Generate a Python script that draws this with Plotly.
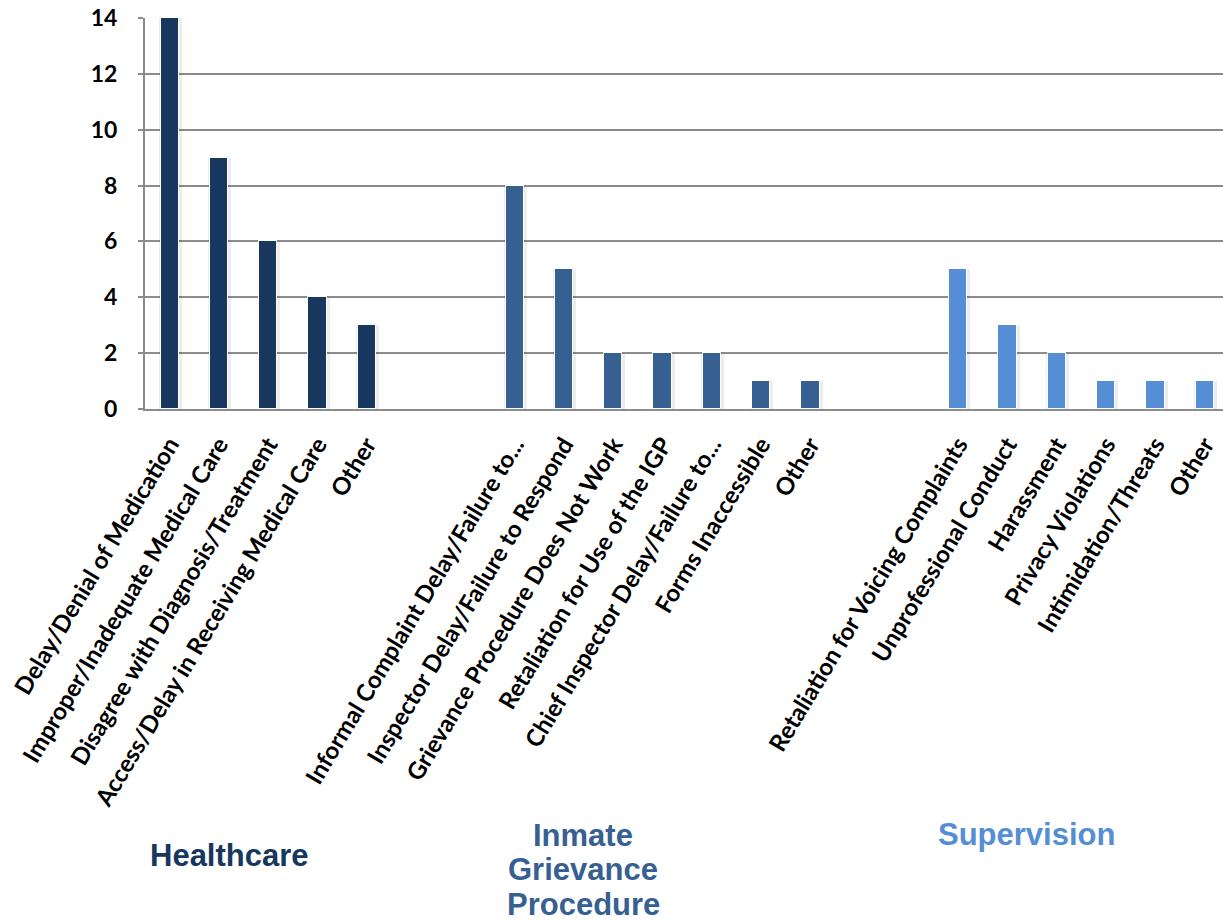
import plotly.graph_objects as go

# Complaint categories and counts, grouped by area
healthcare_labels = [
    "Delay/Denial of Medication",
    "Improper/Inadequate Medical Care",
    "Disagree with Diagnosis/Treatment",
    "Access/Delay in Receiving Medical Care",
    "Other",
]
healthcare_counts = [14, 9, 6, 4, 3]

igp_labels = [
    "Informal Complaint Delay/Failure to...",
    "Inspector Delay/Failure to Respond",
    "Grievance Procedure Does Not Work",
    "Retaliation for Use of the IGP",
    "Chief Inspector Delay/Failure to...",
    "Forms Inaccessible",
    "Other",
]
igp_counts = [8, 5, 2, 2, 2, 1, 1]

supervision_labels = [
    "Retaliation for Voicing Complaints",
    "Unprofessional Conduct",
    "Harassment",
    "Privacy Violations",
    "Intimidation/Threats",
    "Other",
]
supervision_counts = [5, 3, 2, 1, 1, 1]

group_colors = ["#17375E", "#366092", "#558ED5"]

groups = [
    (healthcare_labels, healthcare_counts),
    (igp_labels, igp_counts),
    (supervision_labels, supervision_counts),
]

GAP = 2  # empty slots between groups

fig = go.Figure()
tickvals, ticktext = [], []
pos = 0
for (labels, counts), color in zip(groups, group_colors):
    xs = list(range(pos, pos + len(labels)))
    # soft glow/shadow around each bar
    fig.add_trace(go.Bar(
        x=[x + 0.015 for x in xs], y=counts, width=0.46,
        marker=dict(color="rgba(0,0,0,0.07)", line=dict(width=0)),
        hoverinfo="skip", showlegend=False,
    ))
    fig.add_trace(go.Bar(
        x=xs, y=counts, width=0.37,
        marker=dict(color=color, line=dict(color="white", width=1)),
        showlegend=False,
    ))
    tickvals += xs
    ticktext += labels
    pos += len(labels) + GAP

L, T, B_PX, H, W = 145, 18, 409, 921, 1223
plot_h = B_PX - T


def py(y):
    return (B_PX - y) / plot_h


def px(x):
    return (x - L) / (W - L)


annotations = []
# group captions
title_font = "Liberation Sans, Arial, sans-serif"
annotations.append(dict(text="<b>Healthcare</b>", x=px(229), y=py(856), xref="paper", yref="paper",
                        showarrow=False, font=dict(family=title_font, size=31, color=group_colors[0]),
                        xanchor="center", yanchor="middle"))
for line, yy in zip(["Inmate", "Grievance", "Procedure"], [835, 869, 904]):
    annotations.append(dict(text="<b>%s</b>" % line, x=px(583), y=py(yy), xref="paper", yref="paper",
                            showarrow=False, font=dict(family=title_font, size=31, color=group_colors[1]),
                            xanchor="center", yanchor="middle"))
annotations.append(dict(text="<b>Supervision</b>", x=px(1026), y=py(834), xref="paper", yref="paper",
                        showarrow=False, font=dict(family=title_font, size=31, color=group_colors[2]),
                        xanchor="center", yanchor="middle"))

fig.update_layout(
    width=W, height=H,
    margin=dict(l=L, r=0, t=T, b=H - B_PX, pad=0),
    paper_bgcolor="white", plot_bgcolor="white",
    barmode="overlay",
    bargap=0,
    font=dict(family="Lato, Calibri, sans-serif", color="black"),
    annotations=annotations,
    xaxis=dict(
        range=[-0.5, 21.37],
        tickmode="array", tickvals=tickvals,
        ticktext=["<b>%s</b>" % t for t in ticktext],
        tickangle=-59,
        tickfont=dict(size=24, family="Lato, sans-serif", color="black"),
        showgrid=False, zeroline=False,
        showline=True, linecolor="#8C8C8C", linewidth=2,
        ticks="outside", ticklen=10, tickcolor="rgba(0,0,0,0)",
    ),
    yaxis=dict(
        range=[0, 14], dtick=2,
        tickfont=dict(size=23, family="Lato, sans-serif", color="black"),
        tickprefix="<b>", ticksuffix="</b>",
        showgrid=True, gridcolor="#8C8C8C", gridwidth=1.5,
        zeroline=False,
        showline=True, linecolor="#8C8C8C", linewidth=2,
        ticks="outside", ticklen=5, tickcolor="#8C8C8C", tickwidth=1.5,
        ticklabelstandoff=16,
    ),
)

fig.write_html("out.html")
